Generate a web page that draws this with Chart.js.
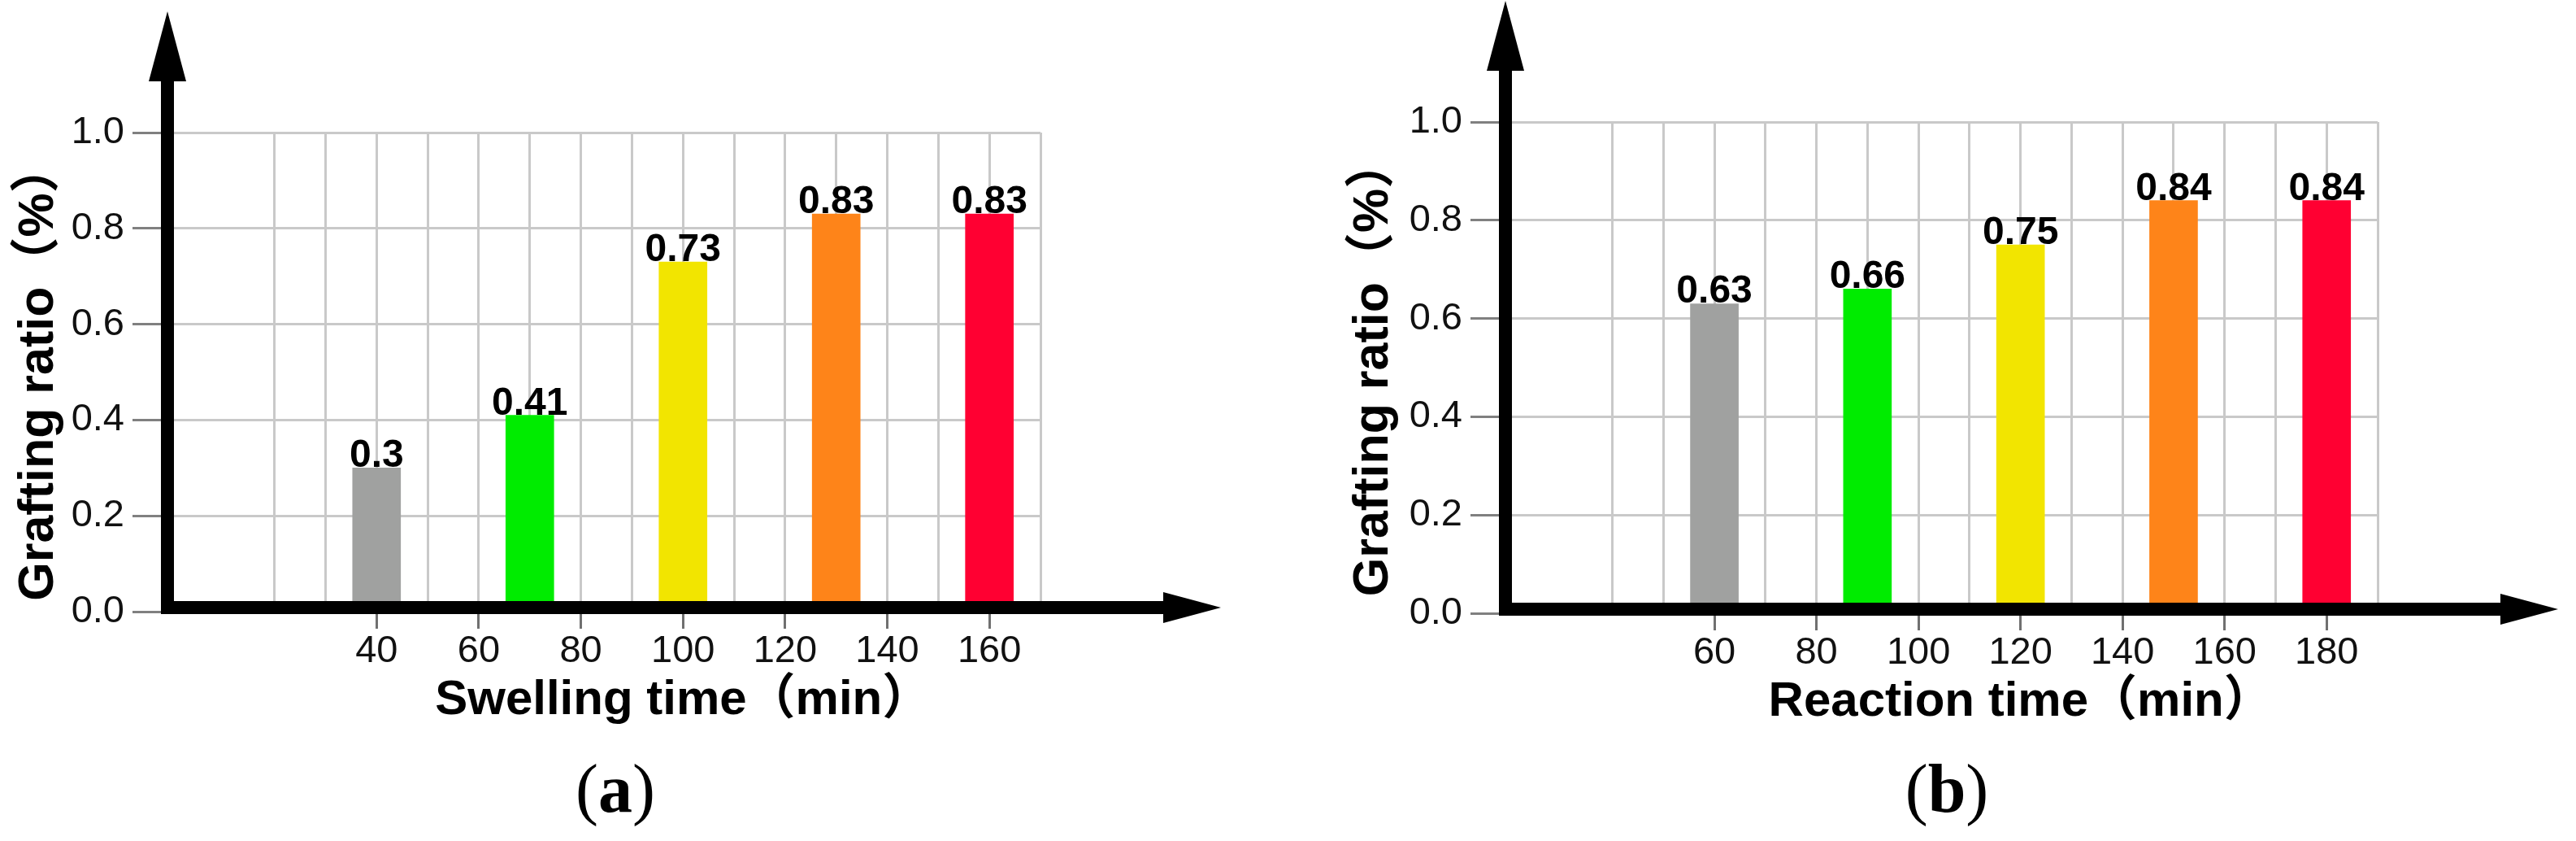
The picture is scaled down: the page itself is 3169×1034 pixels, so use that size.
<!DOCTYPE html>
<html>
<head>
<meta charset="utf-8">
<script src="https://cdn.jsdelivr.net/npm/chart.js@4.4.1/dist/chart.umd.min.js"></script>
<style>
html,body{margin:0;padding:0;background:#fff;}
#wrap{position:relative;width:3169px;height:1034px;overflow:hidden;background:#fff;}
#wrap canvas{position:absolute;top:0;}
.cap{position:absolute;top:928px;width:400px;text-align:center;font-family:"Liberation Serif","Times New Roman",serif;font-size:84px;line-height:1;color:#000;}
</style>
</head>
<body>
<div id="wrap">
<canvas id="chartA" width="1584" height="1034" style="left:0"></canvas>
<canvas id="chartB" width="1585" height="1034" style="left:1584px"></canvas>
<div class="cap" style="left:557px">(<b>a</b>)</div>
<div class="cap" style="left:2195px">(<b>b</b>)</div>
</div>
<script>
// (a) swelling time
const swellingTimes = [40, 70, 100, 130, 160];
const swellingRatios = [0.3, 0.41, 0.73, 0.83, 0.83];
const swellingTickLabels = [40, 60, 80, 100, 120, 140, 160];

// (b) reaction time
const reactionTimes = [60, 90, 120, 150, 180];
const reactionRatios = [0.63, 0.66, 0.75, 0.84, 0.84];
const reactionTickLabels = [60, 80, 100, 120, 140, 160, 180];

const barColors = ["#a0a1a0", "#00ec00", "#f2e500", "#fe8419", "#ff0032"];

const FONT = '"Liberation Sans", Arial, "Noto Sans CJK SC", sans-serif';

// black axes with arrow heads
const axisArrows = {
  id: "axisArrows",
  afterDatasetsDraw(chart) {
    const {ctx, chartArea: a} = chart;
    const y0 = chart.scales.y.getPixelForValue(0);
    const vx = a.left - 6;
    const hy = y0 - 5;
    const lw = 16;
    const yBase = a.top - 63;
    const xBase = a.right + 151;
    ctx.save();
    ctx.fillStyle = "#000";
    ctx.fillRect(vx - lw / 2, yBase, lw, hy + lw / 2 - yBase);
    ctx.fillRect(vx - lw / 2, hy - lw / 2, xBase - (vx - lw / 2), lw);
    ctx.beginPath();
    ctx.moveTo(vx - 23, yBase);
    ctx.lineTo(vx + 23, yBase);
    ctx.lineTo(vx, a.top - 149);
    ctx.closePath();
    ctx.fill();
    ctx.beginPath();
    ctx.moveTo(xBase, hy - 19);
    ctx.lineTo(xBase, hy + 19);
    ctx.lineTo(a.right + 222, hy);
    ctx.closePath();
    ctx.fill();
    ctx.restore();
  }
};

// value labels on bars + x axis title
const barText = {
  id: "barText",
  afterDraw(chart, args, opts) {
    const {ctx} = chart;
    const meta = chart.getDatasetMeta(0);
    const vals = chart.data.datasets[0].data;
    ctx.save();
    ctx.fillStyle = "#000";
    ctx.textAlign = "center";
    ctx.textBaseline = "alphabetic";
    ctx.font = "bold 48px " + FONT;
    meta.data.forEach((bar, i) => {
      ctx.fillText(String(vals[i].y), bar.x, bar.y - 1);
    });
    const xs = chart.scales.x;
    const labs = opts.tickLabels;
    const cx = xs.getPixelForValue((labs[0] + labs[labs.length - 1]) / 2);
    ctx.font = "bold 60px " + FONT;
    ctx.fillText(opts.title, cx, chart.scales.y.getPixelForValue(0) + 126);
    ctx.restore();
  }
};

function makeChart(id, times, ratios, tickLabels, xMin, xMax, gridFrom, xTitle, box) {
  const canvas = document.getElementById(id);
  const W = canvas.width, H = canvas.height;
  return new Chart(canvas, {
    type: "bar",
    data: {
      datasets: [{
        data: times.map((t, i) => ({x: t, y: ratios[i]})),
        backgroundColor: barColors,
        barThickness: 59
      }]
    },
    options: {
      responsive: false,
      animation: false,
      layout: {padding: {left: box.padLeft, right: W - box.right, top: box.top, bottom: 140}},
      plugins: {
        legend: {display: false},
        tooltip: {enabled: false},
        barText: {title: xTitle, tickLabels: tickLabels}
      },
      scales: {
        x: {
          type: "linear",
          min: xMin,
          max: xMax,
          offset: false,
          border: {display: false},
          grid: {
            offset: false,
            lineWidth: 3,
            color: c => (c.tick && c.tick.value >= gridFrom) ? "#c9c9c9" : "rgba(0,0,0,0)",
            tickColor: c => (c.tick && tickLabels.includes(c.tick.value)) ? "#707070" : "rgba(0,0,0,0)",
            tickLength: 21
          },
          ticks: {
            stepSize: 10,
            autoSkip: false,
            maxRotation: 0,
            padding: 0,
            color: "#111",
            font: {family: FONT, size: 47},
            callback: v => tickLabels.includes(v) ? String(v) : ""
          },
          afterFit: s => { s.height = H - 140 - box.bottom; }
        },
        y: {
          min: 0,
          max: 1,
          border: {display: false},
          grid: {
            lineWidth: 3,
            color: "#c9c9c9",
            tickColor: "#808080",
            tickLength: 49
          },
          ticks: {
            stepSize: 0.2,
            padding: 10,
            color: "#111",
            font: {family: FONT, size: 47},
            callback: v => v.toFixed(1)
          },
          title: {
            display: true,
            text: "Grafting ratio（%）",
            color: "#000",
            padding: {top: 12, bottom: 0},
            font: {family: FONT, size: 61, weight: "bold"}
          },
          afterFit: s => { s.width = box.left - box.padLeft; }
        }
      }
    },
    plugins: [axisArrows, barText]
  });
}

makeChart("chartA", swellingTimes, swellingRatios, swellingTickLabels, 0, 170, 20,
  "Swelling time（min）", {left: 212, right: 1280, top: 163, bottom: 752, padLeft: 0});
makeChart("chartB", reactionTimes, reactionRatios, reactionTickLabels, 20, 190, 40,
  "Reaction time（min）", {left: 274, right: 1341, top: 150, bottom: 754, padLeft: 58});
</script>
</body>
</html>
